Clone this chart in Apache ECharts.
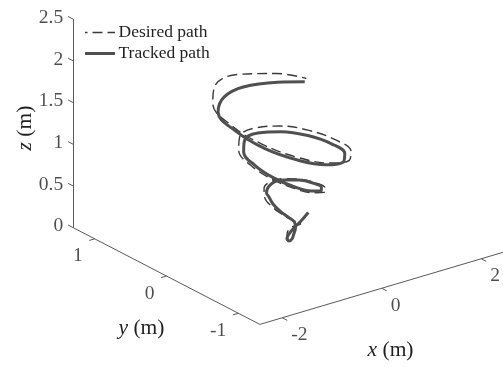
<!DOCTYPE html>
<html>
<head>
<meta charset="utf-8">
<script src="https://cdn.jsdelivr.net/npm/echarts@6/dist/echarts.min.js"></script>
<style>
  html, body { margin: 0; padding: 0; background: #ffffff; }
  #chart { width: 503px; height: 367px; }
</style>
</head>
<body>
<div id="chart"></div>
<script>
// Desired conical spiral path (m)
const desiredX = [0, 0.007, 0.037, 0.073, 0.096, 0.085, 0.034, -0.051, -0.146, -0.219,
  -0.239, -0.188, -0.068, 0.094, 0.256, 0.365, 0.383, 0.290, 0.102, -0.138,
  -0.365, -0.511, -0.526, -0.393, -0.136, 0.182, 0.475, 0.657, 0.670, 0.495,
  0.170, -0.225, -0.584, -0.804, -0.813, -0.598, -0.204, 0.269, 0.694, 0.893];
const desiredY = [0, 0.024, 0.034, 0.017, -0.029, -0.091, -0.146, -0.167, -0.137, -0.051,
  0.073, 0.201, 0.292, 0.311, 0.239, 0.085, -0.116, -0.310, -0.438, -0.454,
  -0.342, -0.119, 0.160, 0.420, 0.584, 0.598, 0.444, 0.153, -0.203, -0.529,
  -0.731, -0.742, -0.547, -0.187, 0.247, 0.639, 0.877, 0.885, 0.649, 0.370];
const desiredZ = [0, 0.042, 0.083, 0.125, 0.167, 0.208, 0.25, 0.292, 0.333, 0.375,
  0.417, 0.458, 0.5, 0.542, 0.583, 0.625, 0.667, 0.708, 0.75, 0.792,
  0.833, 0.875, 0.917, 0.958, 1.0, 1.042, 1.083, 1.125, 1.167, 1.208,
  1.25, 1.292, 1.333, 1.375, 1.417, 1.458, 1.5, 1.542, 1.583, 1.612];

// Tracked path (m): take-off transient near the ground, then follows the spiral
const trackedX = [0.313, 0.216, 0.118, 0.030, -0.025, -0.019, 0.027, 0.106, 0.170, 0.190,
  0.107, 0.030, -0.011, -0.013, -0.061, 0.085, 0.230, 0.329, 0.345, 0.261,
  0.092, -0.124, -0.329, -0.460, -0.473, -0.354, -0.122, 0.164, 0.428, 0.591,
  0.603, 0.446, 0.153, -0.203, -0.526, -0.724, -0.740, -0.556, -0.180, 0.242,
  0.625, 0.820];
const trackedY = [-0.060, -0.026, 0.004, 0.012, 0.003, -0.022, -0.031, -0.004, 0.019, 0.047,
  0.080, 0.137, 0.207, 0.261, 0.263, 0.280, 0.215, 0.077, -0.104, -0.279,
  -0.394, -0.409, -0.308, -0.107, 0.144, 0.378, 0.526, 0.538, 0.400, 0.138,
  -0.183, -0.476, -0.658, -0.668, -0.492, -0.168, 0.225, 0.594, 0.772, 0.797,
  0.584, 0.340];
const trackedZ = [0.30, 0.20, 0.12, 0.06, 0.02, 0.0, 0.02, 0.06, 0.11, 0.16,
  0.22, 0.28, 0.34, 0.40, 0.46, 0.542, 0.583, 0.625, 0.667, 0.708,
  0.75, 0.792, 0.833, 0.875, 0.917, 0.948, 0.98, 1.012, 1.043, 1.085,
  1.127, 1.168, 1.20, 1.235, 1.27, 1.30, 1.337, 1.37, 1.40, 1.435,
  1.52, 1.60];

// Axis limits and tick values
const xRange = [-2.45, 2.5];
const yRange = [-1.3, 1.3];
const zRange = [0, 2.5];
const xTicks = [-2, 0, 2];
const yTicks = [-1, 0, 1];
const zTicks = [0, 0.5, 1, 1.5, 2, 2.5];

// Series names shown in the legend
const seriesNames = ['Desired path', 'Tracked path'];

// Oblique 3-D view: screen position of the origin and screen step per metre along x, y, z
const view = {
  origin: [288.4, 239.9],
  ex: [49.75, -14.75],
  ey: [-71.8, -37.2],
  ez: [0, -83.4]
};
function project(x, y, z) {
  return [
    view.origin[0] + x * view.ex[0] + y * view.ey[0] + z * view.ez[0],
    view.origin[1] + x * view.ex[1] + y * view.ey[1] + z * view.ez[1]
  ];
}
const toScreen = (X, Y, Z) => X.map((x, i) => project(x, Y[i], Z[i]));

const FONT = 'Liberation Serif, Times New Roman, serif';
const TEXT = '#1f1f1f';
const AXIS = '#5a5a5a';
const DESIRED = { color: '#3a3a3a', width: 1.4, dash: [10, 5] };
const TRACKED = { color: '#505050', width: 3 };

const [x0, x1] = xRange, [y0, y1] = yRange, [z0, z1] = zRange;

const axisSegs = [
  [project(x0, y1, z0), project(x0, y1, z1)],
  [project(x0, y1, z0), project(x0, y0, z0)],
  [project(x0, y0, z0), project(x1, y0, z0)]
];
const tickSegs = [
  ...zTicks.map(t => [project(x0, y1, t), project(x0, y1 + 0.07, t)]),
  ...yTicks.map(t => [project(x0, t, 0), project(x0 - 0.11, t, 0)]),
  ...xTicks.map(t => [project(t, y0, 0), project(t, y0 - 0.07, 0)])
];

function tickLabels(values, pos, align, offset) {
  return {
    type: 'scatter',
    silent: true,
    symbolSize: 1,
    itemStyle: { color: 'rgba(0,0,0,0)' },
    emphasis: { disabled: true },
    data: values.map(v => ({ name: String(v), value: pos(v) })),
    label: {
      show: true, formatter: '{b}', position: 'inside',
      align: align, verticalAlign: 'middle', offset: offset,
      fontFamily: FONT, fontSize: 19.5, color: TEXT
    },
    z: 5
  };
}

function axisTitle(letter, center, rotation) {
  return {
    type: 'text',
    x: center[0], y: center[1],
    rotation: rotation,
    silent: true,
    style: {
      text: '{v|' + letter + '} (m)',
      fontFamily: FONT, fontSize: 21.5, fill: TEXT,
      align: 'center', verticalAlign: 'middle',
      rich: { v: { fontStyle: 'italic', fontFamily: FONT, fontSize: 21.5, fill: TEXT } }
    }
  };
}

// Legend: line sample followed by the series name
const legendBox = { left: 85, top: 32.5, lineLen: 30, rowGap: 21, textGap: 3.5 };
function legendRow(i, name, style) {
  const y = legendBox.top + i * legendBox.rowGap;
  return [
    {
      type: 'line', silent: true,
      shape: { x1: legendBox.left, y1: y, x2: legendBox.left + legendBox.lineLen, y2: y },
      style: {
        stroke: style.color, lineWidth: style.width,
        lineDash: style.dash || null, lineDashOffset: style.dash ? 7.5 : 0
      }
    },
    {
      type: 'text', silent: true,
      x: legendBox.left + legendBox.lineLen + legendBox.textGap, y: y,
      style: { text: name, fontFamily: FONT, fontSize: 17.5, fill: TEXT, verticalAlign: 'middle', align: 'left' }
    }
  ];
}

const zMid = project(x0, y1, (z0 + z1) / 2);
const yMid = project(x0, 0, 0);
const xMid = project(0, y0, 0);

const chart = echarts.init(document.getElementById('chart'), null, { renderer: 'canvas' });
chart.setOption({
  animation: false,
  backgroundColor: '#ffffff',
  grid: { left: 0, right: 0, top: 0, bottom: 0 },
  xAxis: { type: 'value', min: 0, max: 503, show: false },
  yAxis: { type: 'value', min: 0, max: 367, inverse: true, show: false },
  graphic: [
    axisTitle('z', [zMid[0] - 48, zMid[1] + 4.6], Math.PI / 2),
    axisTitle('y', [yMid[0] - 25, yMid[1] + 52.5], 0),
    axisTitle('x', [xMid[0] + 8.8, xMid[1] + 61.7], 0),
    ...legendRow(0, seriesNames[0], DESIRED),
    ...legendRow(1, seriesNames[1], TRACKED)
  ],
  series: [
    {
      type: 'lines', coordinateSystem: 'cartesian2d', silent: true,
      data: axisSegs.concat(tickSegs).map(c => ({ coords: c })),
      lineStyle: { color: AXIS, width: 1, opacity: 1 },
      z: 1
    },
    {
      name: seriesNames[0], type: 'line',
      data: toScreen(desiredX, desiredY, desiredZ),
      symbol: 'none', showSymbol: false, smooth: 0.4,
      lineStyle: { color: DESIRED.color, width: DESIRED.width, type: DESIRED.dash },
      itemStyle: { color: DESIRED.color },
      z: 2
    },
    {
      name: seriesNames[1], type: 'line',
      data: toScreen(trackedX, trackedY, trackedZ),
      symbol: 'none', showSymbol: false, smooth: 0.4,
      lineStyle: { color: TRACKED.color, width: TRACKED.width },
      itemStyle: { color: TRACKED.color },
      z: 3
    },
    tickLabels(zTicks, t => project(x0, y1, t), 'right', [-10, -1.5]),
    tickLabels(yTicks, t => project(x0, t, 0), 'right', [-12, 17.5]),
    tickLabels(xTicks, t => project(t, y0, 0), 'left', [9, 17.5])
  ]
});
</script>
</body>
</html>
